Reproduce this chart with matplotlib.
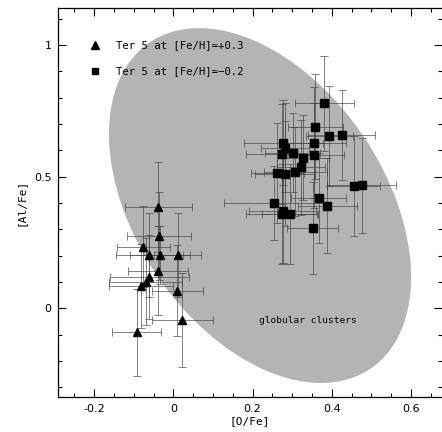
import matplotlib
matplotlib.use("Agg")
import matplotlib.pyplot as plt
from matplotlib.patches import Ellipse
from matplotlib.transforms import ScaledTranslation
from matplotlib.ticker import MultipleLocator

# Ter 5 at [Fe/H] ~ +0.3 (triangles)
ofe_t = [-0.038, -0.036, -0.076, -0.061, -0.034, 0.011, -0.038, -0.061, -0.070, -0.082, 0.010, 0.023, -0.093]
alfe_t = [0.386, 0.276, 0.234, 0.201, 0.201, 0.201, 0.143, 0.118, 0.101, 0.085, 0.067, -0.044, -0.091]
ofe_err_t = [0.084, 0.080, 0.067, 0.085, 0.075, 0.060, 0.076, 0.100, 0.092, 0.080, 0.065, 0.078, 0.063]
alfe_err_t = [0.171, 0.167, 0.155, 0.16, 0.11, 0.16, 0.168, 0.16, 0.165, 0.16, 0.172, 0.178, 0.165]

# Ter 5 at [Fe/H] ~ -0.2 (squares)
ofe_s = [0.381, 0.359, 0.394, 0.425, 0.355, 0.278, 0.282, 0.274, 0.301, 0.355, 0.327, 0.322,
         0.308, 0.263, 0.282, 0.455, 0.476, 0.253, 0.367, 0.389, 0.276, 0.274, 0.295, 0.352]
alfe_s = [0.778, 0.690, 0.653, 0.658, 0.629, 0.629, 0.610, 0.587, 0.590, 0.581, 0.572, 0.535,
          0.519, 0.515, 0.511, 0.466, 0.467, 0.401, 0.419, 0.389, 0.371, 0.358, 0.358, 0.306]
ofe_err_s = [0.075, 0.07, 0.06, 0.085, 0.08, 0.1, 0.06, 0.09, 0.07, 0.075, 0.065, 0.06,
             0.08, 0.068, 0.075, 0.068, 0.087, 0.125, 0.07, 0.075, 0.085, 0.09, 0.07, 0.065]
alfe_err_s = [0.18, 0.2, 0.19, 0.17, 0.21, 0.16, 0.17, 0.19, 0.15, 0.2, 0.16, 0.18,
              0.17, 0.19, 0.2, 0.19, 0.18, 0.14, 0.17, 0.18, 0.2, 0.19, 0.19, 0.175]

fig = plt.figure(figsize=(4.42, 4.32), dpi=100)
ax = fig.add_axes([0.132, 0.0803, 0.868, 0.9005])
ax.set_xlim(-0.2904, 0.6785)
ax.set_ylim(-0.338, 1.139)

# globular clusters region (ellipse sized in pixels, centred in data coords)
ell = Ellipse((0, 0), 394, 249, angle=-55.9, facecolor="#b4b4b4", edgecolor="none",
              transform=ScaledTranslation(0.219, 0.390, ax.transData), zorder=0)
ax.add_patch(ell)

ebkw = dict(fmt="none", ecolor="0.25", elinewidth=0.7, capsize=3, capthick=0.7, alpha=0.65, zorder=2)
ax.errorbar(ofe_t, alfe_t, xerr=ofe_err_t, yerr=alfe_err_t, **ebkw)
ax.errorbar(ofe_s, alfe_s, xerr=ofe_err_s, yerr=alfe_err_s, **ebkw)
ax.plot(ofe_t, alfe_t, "k^", ms=6, zorder=3)
ax.plot(ofe_s, alfe_s, "ks", ms=5.2, zorder=3)

mono = ["DejaVu Sans Mono", "DejaVu Sans"]
ax.plot([-0.199], [1.0], "k^", ms=5.5)
ax.plot([-0.199], [0.901], "ks", ms=5)
ax.text(-0.146, 1.0, "Ter 5 at [Fe/H]≃+0.3", family=mono, fontsize=7.7, va="center")
ax.text(-0.146, 0.901, "Ter 5 at [Fe/H]≃−0.2", family=mono, fontsize=7.7, va="center")
ax.text(0.340, -0.048, "globular clusters", family=mono, fontsize=6.8, ha="center", va="center")

ax.set_xlabel("[O/Fe]", family=mono, fontsize=8, labelpad=1)
ax.set_ylabel("[Al/Fe]", family=mono, fontsize=8, labelpad=6)

ax.xaxis.set_major_locator(MultipleLocator(0.2))
ax.xaxis.set_minor_locator(MultipleLocator(0.05))
ax.yaxis.set_major_locator(MultipleLocator(0.5))
ax.yaxis.set_minor_locator(MultipleLocator(0.1))
ax.set_xticks([-0.2, 0, 0.2, 0.4, 0.6])
ax.set_xticklabels(["-0.2", "0", "0.2", "0.4", "0.6"])
ax.set_yticks([0, 0.5, 1])
ax.set_yticklabels(["0", "0.5", "1"])
ax.tick_params(which="both", direction="in", top=True, right=True, labelsize=8, pad=5)
ax.tick_params(which="major", length=6, width=0.8)
ax.tick_params(which="minor", length=3, width=0.8)
for sp in ax.spines.values():
    sp.set_linewidth(0.9)
ax.spines["right"].set_visible(False)

fig.savefig("out.png", dpi=100)
